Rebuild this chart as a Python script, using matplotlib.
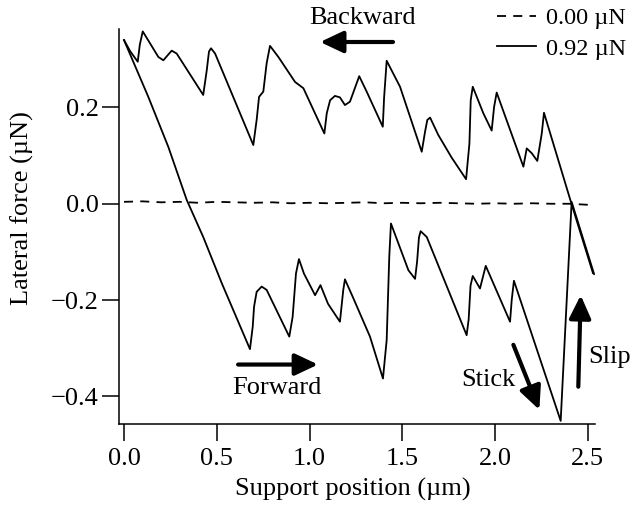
import matplotlib
matplotlib.use("Agg")
import matplotlib.pyplot as plt

# ---- data ----
fwd_x = [0.000, 0.131, 0.239, 0.338, 0.427, 0.527, 0.679, 0.694, 0.701, 0.715,
         0.742, 0.769, 0.891, 0.909, 0.927, 0.943, 0.970, 1.030, 1.059, 1.100,
         1.164, 1.182, 1.191, 1.236, 1.326, 1.396, 1.416, 1.430, 1.439, 1.533,
         1.569, 1.580, 1.590, 1.599, 1.632, 1.847, 1.858, 1.868, 1.880, 1.919,
         1.950, 2.081, 2.090, 2.102, 2.354, 2.413, 2.534]
fwd_y = [0.340, 0.222, 0.118, 0.008, -0.069, -0.165, -0.302, -0.255, -0.214, -0.183,
         -0.172, -0.179, -0.276, -0.235, -0.145, -0.115, -0.145, -0.190, -0.169, -0.208,
         -0.245, -0.179, -0.157, -0.196, -0.276, -0.363, -0.283, -0.110, -0.041, -0.138,
         -0.156, -0.120, -0.070, -0.057, -0.069, -0.273, -0.240, -0.170, -0.150, -0.176,
         -0.129, -0.245, -0.200, -0.160, -0.451, 0.004, -0.146]

bwd_x = [0.000, 0.033, 0.074, 0.085, 0.101, 0.185, 0.212, 0.257, 0.284, 0.427,
         0.446, 0.458, 0.469, 0.491, 0.697, 0.715, 0.728, 0.751, 0.769, 0.787,
         0.832, 0.922, 0.967, 1.080, 1.093, 1.111, 1.137, 1.164, 1.191, 1.218,
         1.268, 1.308, 1.395, 1.402, 1.416, 1.488, 1.605, 1.623, 1.635, 1.650,
         1.694, 1.766, 1.844, 1.862, 1.869, 1.880, 1.937, 1.982, 1.995, 2.009,
         2.049, 2.153, 2.171, 2.198, 2.228, 2.252, 2.264, 2.413, 2.528]
bwd_y = [0.340, 0.317, 0.295, 0.330, 0.358, 0.305, 0.298, 0.318, 0.312, 0.226,
         0.277, 0.316, 0.323, 0.312, 0.122, 0.174, 0.222, 0.233, 0.292, 0.328,
         0.305, 0.253, 0.240, 0.146, 0.188, 0.215, 0.224, 0.221, 0.205, 0.212,
         0.265, 0.233, 0.160, 0.220, 0.297, 0.243, 0.108, 0.150, 0.174, 0.179,
         0.143, 0.096, 0.051, 0.125, 0.215, 0.243, 0.188, 0.152, 0.201, 0.231,
         0.188, 0.077, 0.115, 0.105, 0.089, 0.146, 0.189, -0.001, -0.144]

zero_x = [0.00, 0.10, 0.20, 0.30, 0.40, 0.50, 0.60, 0.70, 0.80, 0.90,
          1.00, 1.10, 1.20, 1.30, 1.40, 1.50, 1.60, 1.70, 1.80, 1.90,
          2.00, 2.10, 2.20, 2.30, 2.40, 2.54]
zero_y = [0.004, 0.005, 0.003, 0.004, 0.002, 0.004, 0.003, 0.002, 0.003, 0.001,
          0.002, 0.001, 0.002, 0.003, 0.001, 0.002, 0.001, 0.002, 0.001, 0.000,
          0.001, 0.000, 0.001, 0.000, 0.000, -0.003]

x_ticks = [0.0, 0.5, 1.0, 1.5, 2.0, 2.5]
y_ticks = [-0.4, -0.2, 0.0, 0.2]
legend_labels = ["0.00 \u00b5N", "0.92 \u00b5N"]

plt.rcParams['font.family'] = ['Liberation Serif', 'DejaVu Serif']
FS = 19

fig = plt.figure(figsize=(6.33, 5.09), dpi=100)
ax = fig.add_axes([119.5 / 633, 1 - 424 / 509, (595 - 119.5) / 633, (424 - 29) / 509])

l0, = ax.plot(zero_x, zero_y, color='black', lw=1.3, ls=(0, (5, 4)))
l1, = ax.plot(fwd_x, fwd_y, color='black', lw=1.3)
ax.plot(bwd_x, bwd_y, color='black', lw=1.3)

ax.set_xlim(-0.0243, 2.539)
ax.set_ylim(-0.4575, 0.363)
ax.set_xticks(x_ticks)
ax.set_xticklabels([f"{v:.1f}" for v in x_ticks])
ax.set_yticks(y_ticks)
ax.set_yticklabels([f"{v:.1f}".replace("-", "\u2212") for v in y_ticks])

for s in ['top', 'right']:
    ax.spines[s].set_visible(False)
for s in ['left', 'bottom']:
    ax.spines[s].set_linewidth(1.1)
ax.tick_params(direction='out', length=12, width=1.1, labelsize=FS, pad=3)
ax.tick_params(axis='x', pad=5)

ax.set_xlabel("Support position (\u00b5m)", fontsize=FS)
ax.set_ylabel("Lateral force (\u00b5N)", fontsize=FS)
ax.xaxis.set_label_coords((353 - 119.5) / 475.5, (424 - 478) / 395)
ax.yaxis.set_label_coords((34 - 119.5) / 475.5, (424 - 208) / 395)

# arrows and annotations
ap = dict(arrowstyle='-|>,head_length=0.7,head_width=0.33', lw=3, color='black',
          mutation_scale=20, shrinkA=0, shrinkB=0)
ax.annotate("", xy=(1.057, 0.336), xytext=(1.450, 0.336), arrowprops=ap, annotation_clip=False)
ax.annotate("", xy=(1.046, -0.334), xytext=(0.615, -0.334), arrowprops=ap, annotation_clip=False)
ax.annotate("", xy=(2.239, -0.428), xytext=(2.099, -0.293), arrowprops=ap, annotation_clip=False)
ax.annotate("", xy=(2.462, -0.190), xytext=(2.449, -0.380), arrowprops=ap, annotation_clip=False)

ax.text(1.288, 0.386, "Backward", fontsize=FS, ha='center', va='center', clip_on=False)
ax.text(0.823, -0.383, "Forward", fontsize=FS, ha='center', va='center', clip_on=False)
ax.text(1.962, -0.366, "Stick", fontsize=FS, ha='center', va='center', clip_on=False)
ax.text(2.617, -0.318, "Slip", fontsize=FS, ha='center', va='center', clip_on=False)

fig.legend([l0, l1], legend_labels, loc='upper left',
           bbox_to_anchor=(497 / 633, 1 - 7 / 509), bbox_transform=fig.transFigure,
           frameon=False, fontsize=17.5, handlelength=1.6, handletextpad=0.4,
           labelspacing=0.35, borderpad=0, borderaxespad=0)

fig.savefig("out.png", dpi=100)
